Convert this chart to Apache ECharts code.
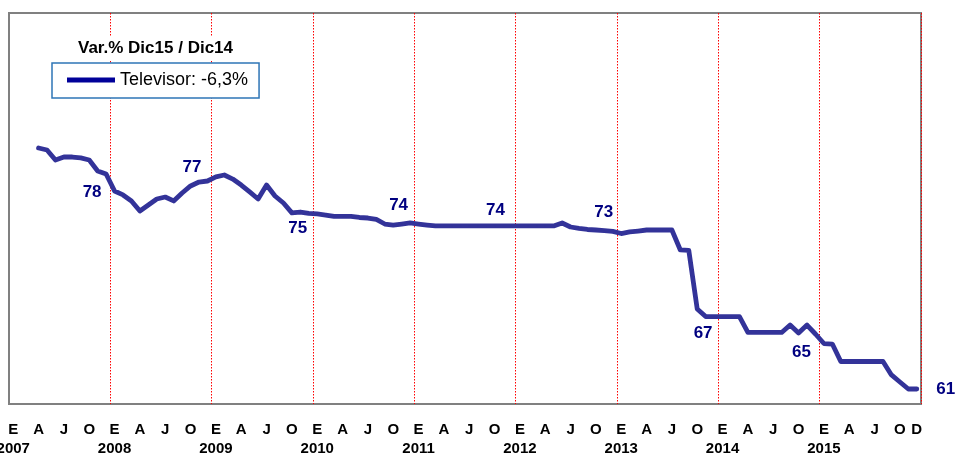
<!DOCTYPE html>
<html>
<head>
<meta charset="utf-8">
<script src="https://cdn.jsdelivr.net/npm/echarts@6/dist/echarts.min.js"></script>
<style>
html,body{margin:0;padding:0;background:#fff;}
#chart{width:957px;height:457px;}
</style>
</head>
<body>
<div id="chart"></div>
<script>
// ---- data ----
const years = [2007, 2008, 2009, 2010, 2011, 2012, 2013, 2014, 2015];
const monthLetters = ['E','F','M','A','M','J','J','A','S','O','N','D'];
const seriesName = 'Televisor';
const legendSuffix = ': -6,3%';
const titleText = 'Var.% Dic15 / Dic14';

const v2007 = [null, null, null, 79.64, 79.49, 78.72, 78.95, 78.95, 78.88, 78.72, 77.88, 77.65];
const v2008 = [76.34, 76.04, 75.58, 74.81, 75.27, 75.73, 75.88, 75.58, 76.19, 76.73, 77.03, 77.11];
const v2009 = [77.42, 77.57, 77.26, 76.80, 76.27, 75.73, 76.80, 75.96, 75.42, 74.66, 74.73, 74.62];
const v2010 = [74.58, 74.50, 74.39, 74.39, 74.39, 74.31, 74.27, 74.16, 73.81, 73.73, 73.81, 73.89];
const v2011 = [73.81, 73.73, 73.66, 73.66, 73.66, 73.66, 73.66, 73.66, 73.66, 73.66, 73.66, 73.66];
const v2012 = [73.66, 73.66, 73.66, 73.66, 73.66, 73.89, 73.58, 73.47, 73.39, 73.35, 73.31, 73.24];
const v2013 = [73.08, 73.20, 73.27, 73.35, 73.35, 73.35, 73.35, 71.82, 71.78, 67.29, 66.71, 66.71];
const v2014 = [66.71, 66.71, 66.71, 65.49, 65.49, 65.49, 65.49, 65.49, 66.06, 65.45, 66.06, 65.37];
const v2015 = [64.64, 64.60, 63.26, 63.26, 63.26, 63.26, 63.26, 63.26, 62.23, 61.69, 61.15, 61.15];

// ---- style config (label placement of December values, px offsets) ----
const decLabelOffsets = [[-14, 18], [-15.5, -13.5], [-11, 15], [-11.5, -18], [-16, -16], [-9, -19.5], [-11, 17], [-14, 18.5], [29, 0]];

const yearValues = [v2007, v2008, v2009, v2010, v2011, v2012, v2013, v2014, v2015];
const categories = [];
const values = [];
years.forEach((y, yi) => {
  monthLetters.forEach((m, mi) => {
    categories.push(y + '|' + m + '|' + mi);
    values.push(yearValues[yi][mi]);
  });
});
const lastIdx = categories.length - 1;

const FONT = "'Liberation Sans', Arial, sans-serif";

const seriesData = values.map((v, i) => {
  if (i % 12 === 11 && v != null) {
    const off = decLabelOffsets[Math.floor(i / 12)];
    return {
      value: v,
      label: {
        show: true,
        position: 'inside',
        offset: off,
        formatter: (p) => String(Math.round(p.value))
      }
    };
  }
  return v;
});

const chart = echarts.init(document.getElementById('chart'), null, {renderer: 'canvas'});
chart.setOption({
  animation: false,
  backgroundColor: '#fff',
  title: {
    text: titleText,
    left: 60,
    top: 36,
    padding: [4, 18, 4, 18],
    backgroundColor: '#fff',
    textStyle: {fontFamily: FONT, fontSize: 17, fontWeight: 'bold', color: '#000'}
  },
  legend: {
    left: 52,
    top: 63,
    orient: 'horizontal',
    padding: [8, 11, 9, 15],
    backgroundColor: '#fff',
    borderColor: '#2E75B6',
    borderWidth: 1.5,
    borderRadius: 0,
    itemWidth: 48,
    itemHeight: 5,
    selectedMode: false,
    data: [{name: seriesName, icon: 'rect', itemStyle: {color: '#000099'}}],
    formatter: (n) => n + legendSuffix,
    textStyle: {fontFamily: FONT, fontSize: 18, color: '#000'}
  },
  grid: {
    left: 9, right: 36, top: 13, bottom: 53,
    outerBoundsMode: 'none',
    containLabel: false,
    show: true,
    borderColor: '#808080',
    borderWidth: 2,
    backgroundColor: 'transparent'
  },
  xAxis: {
    type: 'category',
    data: categories,
    boundaryGap: true,
    axisLine: {show: false},
    axisTick: {show: false},
    splitLine: {
      show: true,
      interval: (i) => i % 12 === 0 && i > 0 && i <= lastIdx,
      lineStyle: {color: ['#FF0000'], type: [1.5, 1.5], width: 1, opacity: 1}
    },
    axisLabel: {
      interval: (i) => i % 3 === 0 || i === lastIdx,
      margin: 16,
      fontFamily: FONT,
      formatter: (val) => {
        const parts = val.split('|');
        const mi = +parts[2];
        if (mi === 0) return '{m|' + parts[1] + '}\n{y|' + parts[0] + '}';
        return '{m|' + parts[1] + '}';
      },
      rich: {
        m: {fontFamily: FONT, fontSize: 15, fontWeight: 'bold', color: '#000', lineHeight: 19},
        y: {fontFamily: FONT, fontSize: 15, fontWeight: 'bold', color: '#000', lineHeight: 19}
      }
    }
  },
  yAxis: {
    type: 'value',
    min: 60,
    max: 90,
    show: false,
    splitLine: {show: false}
  },
  series: [{
    name: seriesName,
    type: 'line',
    data: seriesData,
    showSymbol: true,
    showAllSymbol: true,
    symbol: 'circle',
    symbolSize: 1,
    connectNulls: false,
    lineStyle: {color: '#333399', width: 4.8, join: 'round', cap: 'round'},
    itemStyle: {color: '#333399'},
    label: {
      show: false,
      fontFamily: FONT,
      fontSize: 17,
      fontWeight: 'bold',
      color: '#000080'
    },
    emphasis: {disabled: true},
    z: 3
  }]
});
</script>
</body>
</html>
